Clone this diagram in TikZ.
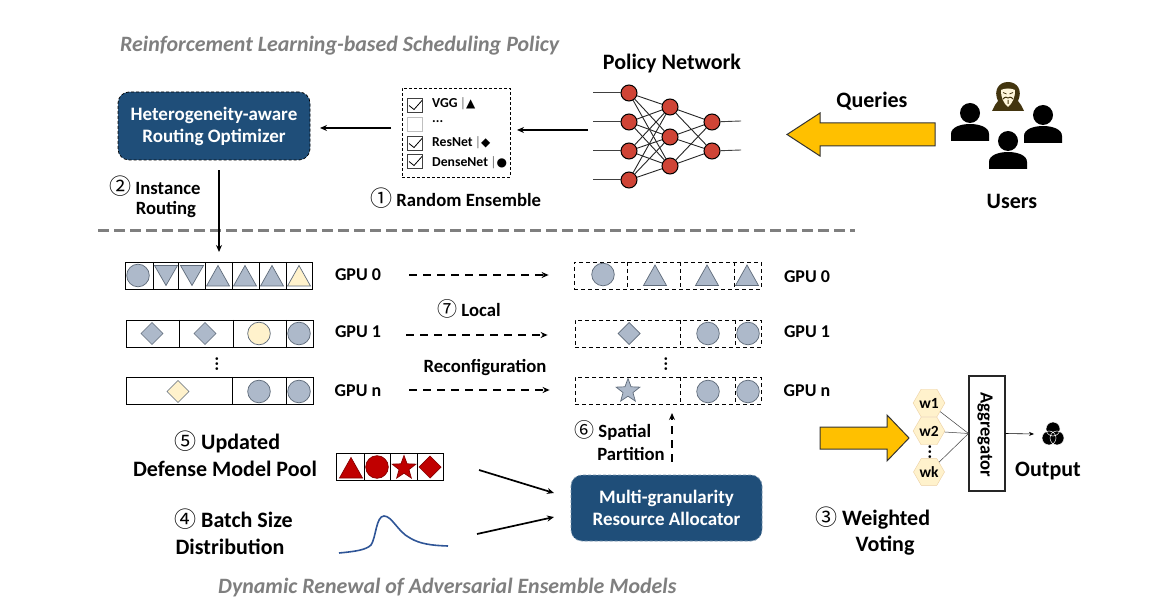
\documentclass[tikz,border=0pt]{standalone}
\usepackage{fontspec}
\setmainfont{Carlito}
\newfontfamily\cjkf{Noto Sans CJK SC}
\newfontfamily\djv{DejaVu Sans}
\usetikzlibrary{shapes.geometric,arrows.meta,calc}
\definecolor{navy}{HTML}{1F4E79}
\definecolor{neuron}{HTML}{CF4436}
\definecolor{slate}{HTML}{ADB9CA}
\definecolor{slateedge}{HTML}{5F6B7A}
\definecolor{cream}{HTML}{FFF2CC}
\definecolor{amber}{HTML}{FFC000}
\definecolor{crimson}{HTML}{C00000}
\definecolor{titlegrey}{HTML}{7F7F7F}
\definecolor{curveblue}{HTML}{2F5597}
\definecolor{hood}{HTML}{43350F}
\newcommand\num[2][22]{{\cjkf\mdseries\fontsize{#1}{#1}\selectfont #2}}
\tikzset{
  lab/.style={font=\bfseries\fontsize{22}{24}\selectfont,inner sep=0pt,align=center},
  stp/.style={font=\bfseries\fontsize{18.7}{22}\selectfont,inner sep=0pt,align=center},
  gpu/.style={font=\bfseries\fontsize{18}{20}\selectfont,inner sep=0pt},
  ttl/.style={font=\bfseries\itshape\fontsize{21.9}{24}\selectfont,text=titlegrey,inner sep=0pt},
  block/.style={draw=black,densely dashed,line width=.7pt,fill=navy,rounded corners=11pt,text=white,inner sep=0pt,align=center,font=\bfseries\fontsize{19}{22}\selectfont},
  neu/.style={circle,draw=black,line width=1pt,fill=neuron,minimum width=16pt,inner sep=0pt},
  wire/.style={line width=.9pt,black!85},
  arr/.style={-{Stealth[length=7pt,width=6pt]},line width=1.5pt},
  darr/.style={-{Stealth[length=7pt,width=6pt]},line width=1.8pt,dash pattern=on 8pt off 6pt},
  bar/.style={draw=black,line width=.9pt,minimum height=27pt,inner sep=0pt},
  dbar/.style={draw=black,line width=.8pt,dash pattern=on 4pt off 3pt,minimum height=27pt,inner sep=0pt},
  slt/.style={draw=slateedge,line width=.7pt,fill=slate},
  crm/.style={draw=slateedge,line width=.7pt,fill=cream},
  redshape/.style={draw=crimson!70!black,line width=.7pt,fill=crimson},
  hex/.style={regular polygon,regular polygon sides=6,draw=cream!70!brown,fill=cream,minimum size=24pt,inner sep=0pt,font=\bfseries\fontsize{15.5}{17}\selectfont},
  chk/.style={draw=black!75,line width=.6pt,minimum width=15pt,minimum height=14pt,inner sep=0pt},
  ck/.style={font=\bfseries\fontsize{13.7}{15}\selectfont,inner sep=0pt,anchor=west},
  big/.style={draw=black!80,line width=1pt,fill=amber},
}
\newcommand\sep{{\color{black!55}\mdseries\,|}}
\newcommand\tup[3]{\draw[#3] (#1-11.5,#2+10.5) -- (#1+11.5,#2+10.5) -- (#1,#2-10) -- cycle;}
\newcommand\tdn[3]{\draw[#3] (#1-11.5,#2-10) -- (#1+11.5,#2-10) -- (#1,#2+10) -- cycle;}
\newcommand\cir[3]{\draw[#3] (#1,#2) circle (11.3);}
\newcommand\dia[3]{\draw[#3] (#1-11,#2) -- (#1,#2-11) -- (#1+11,#2) -- (#1,#2+11) -- cycle;}
\newcommand\strr[3]{\node[star,star points=5,star point ratio=2.4,minimum size=25pt,inner sep=0pt,#3] at (#1,#2) {};}
\newcommand\vdiv[3]{\draw[#3] (#1,#2) -- (#1,#2+27);}
\newcommand\person[2]{%
  \fill[black] (#1,#2-10) circle (10);
  \fill[black] (#1-19,#2+18) -- (#1-19,#2+11) .. controls (#1-19,#2+4) and (#1-9,#2+1) .. (#1,#2+1) .. controls (#1+9,#2+1) and (#1+19,#2+4) .. (#1+19,#2+11) -- (#1+19,#2+18) -- cycle;}
\begin{document}
\begin{tikzpicture}[x=1pt,y=-1pt]
\useasboundingbox (0,0) rectangle (1167,609);
\fill[white] (0,0) rectangle (1167,609);

% titles
\node[ttl,anchor=west] (t1) at (120,46) {Reinforcement Learning-based Scheduling Policy};
\node[ttl,anchor=west] (t2) at (218,588) {Dynamic Renewal of Adversarial Ensemble Models};

% optimizer
\node[block,minimum width=192pt,minimum height=68pt] (opt) at (214,126) {Heterogeneity-aware\\Routing Optimizer};

% model list
\node[draw=black,line width=.7pt,densely dashed,minimum width=108pt,minimum height=89pt,inner sep=0pt] (mlist) at (456,132.5) {};
\node[chk] (c1) at (415,105.5) {};
\node[chk,draw=black!25] (c2) at (415,124.5) {};
\node[chk] (c3) at (415,143.5) {};
\node[chk] (c4) at (415,161.5) {};
\foreach \c in {c1,c3,c4}{\draw[line width=.8pt] ($(\c)+(-6,0)$) -- ($(\c)+(-1,4)$) -- ($(\c)+(7,-5)$);}
\node[ck] (m1) at (432,104) {VGG\sep{\djv\fontsize{12}{12}\selectfont ▲}};
\node[ck] (m2) at (432,122) {...};
\node[ck] (m3) at (432,142.5) {ResNet\sep{\djv\fontsize{12}{12}\selectfont ◆}};
\node[ck] (m4) at (432,163) {DenseNet\sep{\djv\fontsize{12}{12}\selectfont ●}};

% policy network
\node[lab] (pn) at (672,63.5) {Policy Network};
\foreach \n/\y in {1/93,2/122,3/151,4/180}{\node[neu] (a\n) at (629,\y) {};}
\foreach \n/\y in {1/107,2/137,3/166}{\node[neu] (b\n) at (670,\y) {};}
\foreach \n/\y in {1/122,2/151}{\node[neu] (o\n) at (712,\y) {};}
\foreach \i in {1,2,3,4}{\foreach \j in {1,2,3}{\draw[wire] (a\i) -- (b\j);}}
\foreach \i in {1,2,3}{\foreach \j in {1,2}{\draw[wire] (b\i) -- (o\j);}}
\foreach \n/\y in {1/93,2/122,3/151,4/180}{\coordinate (in\n) at (593,\y); \draw[line width=1pt,black!75] (in\n) -- (a\n);}
\foreach \n/\y in {1/121,2/150}{\coordinate (out\n) at (741,\y); \draw[line width=.9pt,black!75] (o\n) -- (out\n);}

% top connectors
\coordinate (nnL) at (588,130);
\coordinate (listR) at (517,130);
\coordinate (listL) at (391,128);
\coordinate (optR) at (320,128);
\draw[arr] (nnL) -- (listR);
\draw[arr] (listL) -- (optR);

% queries arrow
\draw[big] (935,123) -- (820,123) -- (820,113) -- (787,134.5) -- (820,156) -- (820,146) -- (935,146) -- cycle;
\node[lab] (q) at (872,101) {Queries};

% users
\person{970}{123}
\person{1043}{125}
\person{1008}{151}
\fill[hood] (992,111) -- (995,105) -- (998,101) .. controls (993,90) and (999,82) .. (1008,82) .. controls (1017,82) and (1023,90) .. (1018,101) -- (1021,105) -- (1024,111) -- cycle;
\fill[cream!70!white] (1001,90) .. controls (1005,88) and (1011,88) .. (1015,90) .. controls (1015.5,97) and (1012,104) .. (1008,107) .. controls (1004,104) and (1000.5,97) .. (1001,90) -- cycle;
\draw[hood,line width=.8pt] (1003,92.5) -- (1006.5,94) (1013,92.5) -- (1009.5,94);
\draw[hood,line width=1pt] (1003,99) .. controls (1005,96.5) and (1007,97) .. (1008,98) .. controls (1009,97) and (1011,96.5) .. (1013,99) (1008,100) -- (1008,104);
\node[lab] (users) at (1012,201) {Users};

% step labels top
\node[stp,anchor=west] (s1) at (370,198) {\num{①} Random Ensemble};
\node[stp,anchor=west] (s2a) at (109,186) {\num{②} Instance};
\node[stp] (s2b) at (166,209.5) {Routing};

% separator
\coordinate (sepL) at (98,231);
\coordinate (sepR) at (855,231);
\draw[titlegrey,line width=3pt,dash pattern=on 11pt off 5pt] (sepL) -- (sepR);

% left bars
\node[bar,minimum width=187pt] (l0) at (219,275.5) {};
\node[bar,minimum width=187pt] (l1) at (219.5,333.5) {};
\node[bar,minimum width=187pt] (ln) at (219.5,390.5) {};
\foreach \x in {153,178,205,232,259,286}{\vdiv{\x}{262}{bar}}
\foreach \x in {179,233,286}{\vdiv{\x}{320}{bar}}
\foreach \x in {232,286}{\vdiv{\x}{377}{bar}}
\cir{138}{275.5}{slt}
\tdn{166}{275.5}{slt}
\tdn{192}{275.5}{slt}
\tup{218}{275.5}{slt}
\tup{245}{275.5}{slt}
\tup{272}{275.5}{slt}
\tup{299}{275.5}{crm}
\dia{152}{333.5}{slt}
\dia{205}{333.5}{slt}
\cir{259}{333.5}{crm}
\cir{299}{333.5}{slt}
\dia{178}{391.5}{crm}
\cir{259}{391.5}{slt}
\cir{299}{391.5}{slt}
\node[gpu] (dl) at (217,364) {\rotatebox{90}{...}};

\node[gpu] (gl0) at (358,275) {GPU 0};
\node[gpu] (gl1) at (358,332) {GPU 1};
\node[gpu] (gln) at (358,391) {GPU n};

% right bars
\node[dbar,minimum width=187pt] (r0) at (667.5,275.5) {};
\node[dbar,minimum width=186pt] (r1) at (668,333.5) {};
\node[dbar,minimum width=186pt] (rn) at (668,390.5) {};
\foreach \x in {627,680,734}{\vdiv{\x}{262}{dbar}}
\foreach \x in {680,735}{\vdiv{\x}{320}{dbar}}
\foreach \x in {680,735}{\vdiv{\x}{377}{dbar}}
\cir{603}{274.5}{slt}
\tup{655}{275}{slt}
\tup{707}{275}{slt}
\tup{747}{275}{slt}
\dia{629}{333.5}{slt}
\cir{708}{333.5}{slt}
\cir{748}{333.5}{slt}
\strr{628}{391}{slt}
\cir{708}{391.5}{slt}
\cir{748}{391.5}{slt}
\node[gpu] (dr) at (666,364) {\rotatebox{90}{...}};

\node[gpu] (gr0) at (807,277) {GPU 0};
\node[gpu] (gr1) at (807,332) {GPU 1};
\node[gpu] (grn) at (807,391) {GPU n};

% dashed arrows
\draw[darr,shorten <=28pt,shorten >=25pt] ([yshift=.5pt]gl0.east |- r0) -- ([yshift=.5pt]r0.west);
\draw[darr,shorten <=25pt,shorten >=27pt] ([yshift=-1.5pt]gl1.east |- r1) -- ([yshift=-1.5pt]r1.west);
\draw[darr,shorten <=28pt,shorten >=25pt] ([yshift=.5pt]gln.east |- rn) -- ([yshift=.5pt]rn.west);
\node[stp,anchor=west] (s7a) at (437,309) {\num[20]{⑦} Local};
\node[stp] (s7b) at (485,368) {Reconfiguration};

% main arrow down
\coordinate (ibar) at (219,252);
\draw[arr,shorten <=10pt] (opt.south -| ibar) -- (ibar);

% allocator
\node[block,draw=navy!60,minimum width=191pt,minimum height=66pt] (alloc) at (666.5,508) {Multi-granularity\\Resource Allocator};
\coordinate (spTop) at (672,413);
\draw[darr] (alloc.north -| spTop) ++(0,-13) -- (spTop);
\node[stp,anchor=west] (s6a) at (574,431) {\num[20]{⑥} Spatial};
\node[stp] (s6b) at (631,454) {Partition};

% model pool
\node[lab,anchor=west] (s5a) at (174,442) {\num{⑤} Updated};
\node[lab] (s5b) at (225,469) {Defense Model Pool};
\node[bar,minimum width=107pt] (pool) at (389.5,466.5) {};
\foreach \x in {364,390,417}{\vdiv{\x}{453}{bar}}
\tup{351}{467.5}{redshape}
\cir{377}{467}{redshape}
\strr{404}{468}{redshape}
\dia{430}{467}{redshape}

% batch
\node[lab,anchor=west] (s4a) at (174,519) {\num{④} Batch Size};
\node[lab] (s4b) at (230,547) {Distribution};
\coordinate (cvS) at (339,553);
\coordinate (cvE) at (448,546);
\draw[curveblue,line width=1.6pt] (cvS) .. controls (355,551.5) and (366,550) .. (371,545) .. controls (376,538) and (376,516) .. (384,516) .. controls (392,516) and (398,532) .. (410,538) .. controls (420,544) and (432,545.5) .. (cvE);

\coordinate (pa) at (479,470);
\coordinate (pb) at (554,493);
\coordinate (ba) at (477,534);
\coordinate (bb) at (554,517);
\draw[arr,line width=1.7pt] (pa) -- (pb);
\draw[arr,line width=1.7pt] (ba) -- (bb);

% weighted voting
\draw[big] (820,427) -- (887,427) -- (887,415) -- (909,438) -- (887,461) -- (887,449) -- (820,449) -- cycle;
\node[hex] (w1) at (929,403) {w1};
\node[hex] (w2) at (929,431) {w2};
\node[hex] (wk) at (929,472) {wk};
\node[gpu] (dw) at (930,452) {\rotatebox{90}{...}};
\node[draw=black!85,line width=1.1pt,fill=white,minimum width=36pt,minimum height=115pt,inner sep=0pt] (agg) at (987,433.5) {};
\node[rotate=-90,font=\bfseries\fontsize{18.5}{20}\selectfont,inner sep=0pt] (aggt) at (985,434.5) {Aggregator};
\draw[line width=.5pt,black!75] (w1) -- (agg.west);
\draw[line width=.5pt,black!75] (w2) -- (agg.west);
\draw[line width=.5pt,black!75] (wk) -- (agg.west);
\coordinate (ico) at (1034,434);
\draw[-{Stealth[length=5pt,width=4pt]},line width=.6pt] (agg.east) -- (ico);
\fill[black] (1053,429) circle (7) (1049,438) circle (7) (1057,438) circle (7);
\draw[white,line width=.5pt] (1053,429) circle (7) (1049,438) circle (7) (1057,438) circle (7);
\node[lab] (outl) at (1048,471) {Output};
\node[lab,anchor=west] (s3a) at (815,518) {\num{③} Weighted};
\node[lab] (s3b) at (885,546) {Voting};
\end{tikzpicture}
\end{document}
